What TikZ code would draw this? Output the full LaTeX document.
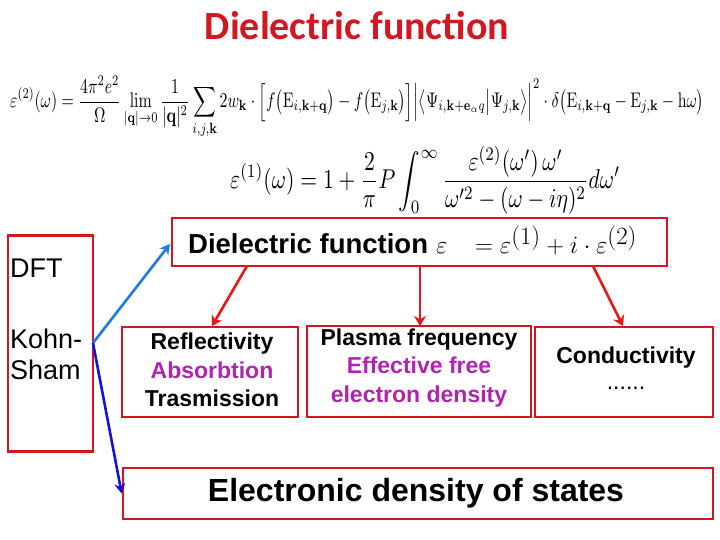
\documentclass[tikz,border=0pt]{standalone}
\usepackage{graphicx}
\usepackage{amsmath}
\usepackage[no-math]{fontspec}
\setmainfont{Liberation Sans}
\newfontfamily\titlefont{Carlito}
\usetikzlibrary{arrows.meta}
\definecolor{boxred}{RGB}{212,22,32}
\definecolor{arrred}{RGB}{235,20,20}
\definecolor{lblue}{RGB}{30,120,235}
\definecolor{dblue}{RGB}{20,20,215}
\definecolor{purp}{RGB}{178,34,178}
\tikzset{
  box/.style={draw=boxred,line width=2.6pt,inner sep=0pt},
  rarr/.style={draw=arrred,line width=2.6pt,-{Stealth[length=10pt,width=12pt]}},
  barr/.style={line width=2.6pt,-{Stealth[length=10pt,width=11pt]}},
  lbl/.style={inner sep=0pt,align=center},
  boxtxt/.style={lbl,font=\bfseries\fontsize{23}{28.5}\selectfont},
}
\begin{document}
\begin{tikzpicture}[x=1pt,y=-1pt]
\useasboundingbox (0,0) rectangle (720,540);
% title
\node[lbl,text=boxred,font=\titlefont\bfseries\fontsize{40}{46}\selectfont] (title) at (357,26) {Dielectric function};
% equations
\node[lbl,anchor=west] (eq1) at (10,107) {\resizebox*{694pt}{62pt}{$\displaystyle
\varepsilon^{(2)}(\omega)=\frac{4\pi^2e^2}{\Omega}\lim_{|\mathbf q|\to0}\frac{1}{|\mathbf q|^2}\sum_{i,j,\mathbf k}2w_{\mathbf k}\cdot\Big[f\big(\mathrm E_{i,\mathbf k+\mathbf q}\big)-f\big(\mathrm E_{j,\mathbf k}\big)\Big]\Big|\big\langle\Psi_{i,\mathbf k+\mathbf e_\alpha q}\big|\Psi_{j,\mathbf k}\big\rangle\Big|^2\cdot\delta\big(\mathrm E_{i,\mathbf k+\mathbf q}-\mathrm E_{j,\mathbf k}-\mathrm{h}\omega\big)$}};
\node[lbl,anchor=west] (eq2) at (230,180) {\resizebox*{390pt}{68pt}{$\displaystyle
\varepsilon^{(1)}(\omega)=1+\frac{2}{\pi}P\int_0^\infty\frac{\varepsilon^{(2)}(\omega')\,\omega'}{\omega'^2-(\omega-i\eta)^2}d\omega'$}};
% boxes
\node[box,minimum width=85pt,minimum height=216pt] (dft) at (50.5,343.5) {};
\node[lbl,anchor=west,font=\fontsize{27}{30}\selectfont] (dfttxt) at (10,268) {DFT};
\node[lbl,anchor=north west,align=left,font=\fontsize{27}{31}\selectfont] (kstxt) at (10,329) {Kohn-\\Sham};
\node[box,minimum width=495pt,minimum height=48pt] (diel) at (419.5,242) {};
\node[lbl,anchor=west,font=\bfseries\fontsize{27.5}{30}\selectfont] (dieltxt) at (188,244) {Dielectric function};
\node[lbl,anchor=west,font=\fontsize{37}{40}\selectfont] (dielmath) at (436,240) {$\varepsilon\ \ =\varepsilon^{(1)}+i\cdot\varepsilon^{(2)}$};
\node[box,minimum width=176pt,minimum height=90pt] (refl) at (210,372) {};
\node[boxtxt] (refltxt) at (212,370) {Reflectivity\\\textcolor{purp}{Absorbtion}\\Trasmission};
\node[box,minimum width=224pt,minimum height=91pt] (plasma) at (419,371.5) {};
\node[boxtxt] (plasmatxt) at (419,368) {Plasma frequency\\\textcolor{purp}{Effective free}\\\textcolor{purp}{electron density}};
\node[box,minimum width=178pt,minimum height=90pt] (cond) at (624,372) {};
\node[boxtxt] (condtxt) at (626,368) {Conductivity\\[-2pt]\mdseries ......};
\node[box,minimum width=590pt,minimum height=51pt] (dos) at (418,493.5) {};
\node[lbl,font=\bfseries\fontsize{32}{36}\selectfont] (dostxt) at (416,493) {Electronic density of states};
% arrows
\coordinate (ks) at (93,343);
\draw[barr,draw=lblue] (ks) -- (170,244);
\draw[barr,draw=dblue] (ks) -- (dos.west);
\draw[rarr] (247,266) -- (212,326);
\draw[rarr] (420,266) -- (420,326);
\draw[rarr] (593,266) -- (623,326);
\end{tikzpicture}
\end{document}
